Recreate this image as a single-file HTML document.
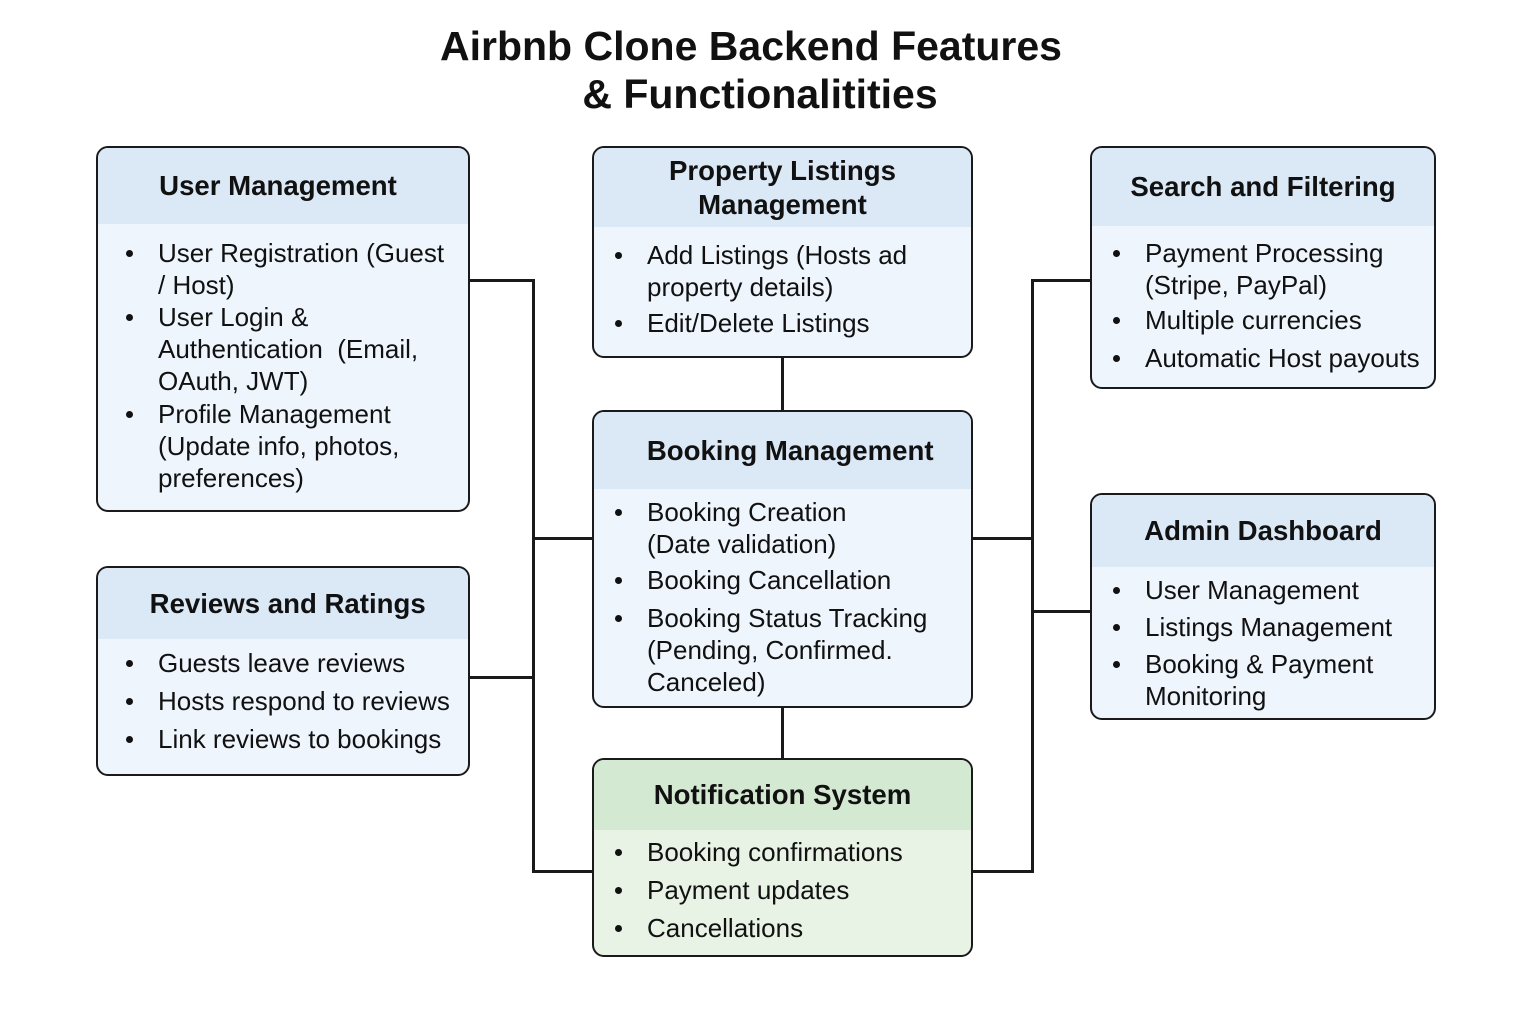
<!DOCTYPE html>
<html><head><meta charset="utf-8"><style>
body{margin:0;width:1536px;height:1024px;background:#fff;position:relative;overflow:hidden;font-family:"Liberation Sans",Arial,sans-serif;color:#111}
.t{position:absolute;left:0;width:1502px;text-align:center;font-weight:bold;font-size:41px;line-height:48px}
.box{position:absolute;border:2.5px solid #1a1a1a;border-radius:12px;background:#eef5fd;overflow:hidden;box-sizing:border-box}
.box.g{background:#e8f3e5}
.h{position:absolute;left:0;right:0;top:0;background:#dbe8f6;font-weight:bold;font-size:27.6px;text-align:center;display:flex;align-items:center;justify-content:center;line-height:34px}
.g .h{background:#d4e9d1}
.i{position:absolute;font-size:26px;line-height:32px;white-space:nowrap}
.i:before{content:"";position:absolute;left:-32px;top:13px;width:7px;height:7px;border-radius:50%;background:#111}
.l{position:absolute;background:#1a1a1a}
</style></head><body>
<div class="t" style="top:22px">Airbnb Clone Backend Features</div>
<div class="t" style="top:70px;left:9px">&amp; Functionalitities</div>

<div class="l" style="left:532px;top:279px;width:2.5px;height:594px"></div>
<div class="l" style="left:469px;top:279px;width:65px;height:2.5px"></div>
<div class="l" style="left:469px;top:676px;width:65px;height:2.5px"></div>
<div class="l" style="left:532px;top:537px;width:62px;height:2.5px"></div>
<div class="l" style="left:532px;top:870px;width:62px;height:2.5px"></div>
<div class="l" style="left:781px;top:356px;width:2.5px;height:56px"></div>
<div class="l" style="left:781px;top:706px;width:2.5px;height:54px"></div>
<div class="l" style="left:1031px;top:279px;width:2.5px;height:594px"></div>
<div class="l" style="left:1031px;top:279px;width:61px;height:2.5px"></div>
<div class="l" style="left:1031px;top:610px;width:61px;height:2.5px"></div>
<div class="l" style="left:971px;top:537px;width:62px;height:2.5px"></div>
<div class="l" style="left:971px;top:870px;width:62px;height:2.5px"></div>

<div class="box" style="left:96px;top:146px;width:374px;height:366px"><div class="h" style="height:76px;padding-right:10px">User Management</div></div>
<div class="box" style="left:96px;top:566px;width:374px;height:210px"><div class="h" style="height:71px;padding-right:6px">&nbsp;&nbsp;Reviews and Ratings</div></div>
<div class="box" style="left:592px;top:146px;width:381px;height:212px"><div class="h" style="height:79px">Property Listings<br>Management</div></div>
<div class="box" style="left:592px;top:410px;width:381px;height:298px"><div class="h" style="height:77px">&nbsp;&nbsp;Booking Management</div></div>
<div class="box g" style="left:592px;top:758px;width:381px;height:199px"><div class="h" style="height:70px">Notification System</div></div>
<div class="box" style="left:1090px;top:146px;width:346px;height:243px"><div class="h" style="height:78px">Search and Filtering</div></div>
<div class="box" style="left:1090px;top:493px;width:346px;height:227px"><div class="h" style="height:72px">Admin Dashboard</div></div>

<div class="i" style="left:158px;top:237px">User Registration (Guest<br>/ Host)</div>
<div class="i" style="left:158px;top:301px">User Login &amp;<br>Authentication&nbsp; (Email,<br>OAuth, JWT)</div>
<div class="i" style="left:158px;top:398px">Profile Management<br>(Update info, photos,<br>preferences)</div>

<div class="i" style="left:158px;top:647px">Guests leave reviews</div>
<div class="i" style="left:158px;top:685px">Hosts respond to reviews</div>
<div class="i" style="left:158px;top:723px">Link reviews to bookings</div>

<div class="i" style="left:647px;top:239px">Add Listings (Hosts ad<br>property details)</div>
<div class="i" style="left:647px;top:307px">Edit/Delete Listings</div>

<div class="i" style="left:647px;top:496px">Booking Creation<br>(Date validation)</div>
<div class="i" style="left:647px;top:564px">Booking Cancellation</div>
<div class="i" style="left:647px;top:602px">Booking Status Tracking<br>(Pending, Confirmed.<br>Canceled)</div>

<div class="i" style="left:647px;top:836px">Booking confirmations</div>
<div class="i" style="left:647px;top:874px">Payment updates</div>
<div class="i" style="left:647px;top:912px">Cancellations</div>

<div class="i" style="left:1145px;top:237px">Payment Processing<br>(Stripe, PayPal)</div>
<div class="i" style="left:1145px;top:304px">Multiple currencies</div>
<div class="i" style="left:1145px;top:342px">Automatic Host payouts</div>

<div class="i" style="left:1145px;top:574px">User Management</div>
<div class="i" style="left:1145px;top:611px">Listings Management</div>
<div class="i" style="left:1145px;top:648px">Booking &amp; Payment<br>Monitoring</div>
</body></html>
